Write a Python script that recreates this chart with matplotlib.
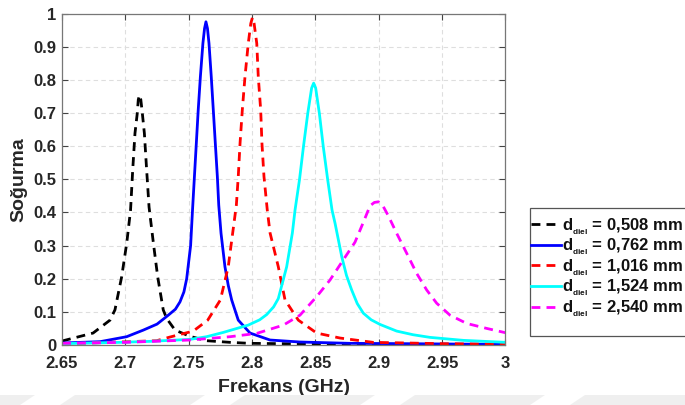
import matplotlib
matplotlib.use("Agg")
import matplotlib.pyplot as plt
from matplotlib.patches import Polygon, Rectangle

plt.rcParams["font.family"] = ["Liberation Sans", "DejaVu Sans"]
plt.rcParams["font.weight"] = "bold"
plt.rcParams["mathtext.fontset"] = "custom"
plt.rcParams["mathtext.rm"] = "Liberation Sans:bold"
plt.rcParams["mathtext.bf"] = "Liberation Sans:bold"
plt.rcParams["mathtext.it"] = "Liberation Sans:bold"

# Absorption spectra for different dielectric thicknesses
f_0508 = [2.650, 2.6745, 2.6879, 2.6918, 2.6971, 2.7011, 2.7041, 2.7058, 2.7076, 2.7094,
          2.7102, 2.7112, 2.7122, 2.7134, 2.7150, 2.7168, 2.7187, 2.7221, 2.7255, 2.7299,
          2.7326, 2.7392, 2.7510, 2.7640, 2.7826, 2.7980, 2.8500, 2.9500, 3.000]
a_0508 = [0.012, 0.036, 0.075, 0.106, 0.206, 0.308, 0.407, 0.528, 0.639, 0.699,
          0.740, 0.754, 0.740, 0.699, 0.639, 0.528, 0.416, 0.308, 0.206, 0.106,
          0.080, 0.045, 0.026, 0.013, 0.008, 0.005, 0.003, 0.002, 0.001]

f_0762 = [2.650, 2.6800, 2.7010, 2.7142, 2.7250, 2.7339, 2.7395, 2.7431, 2.7462, 2.7484,
          2.7515, 2.7530, 2.7545, 2.7560, 2.7575, 2.7592, 2.7612, 2.7625, 2.7636, 2.7648,
          2.7660, 2.7678, 2.7694, 2.7710, 2.7726, 2.7737, 2.7755, 2.7786, 2.7812, 2.7839,
          2.7891, 2.7984, 2.8142, 2.8378, 2.8773, 2.9500, 3.000]
a_0762 = [0.006, 0.010, 0.025, 0.045, 0.063, 0.090, 0.108, 0.130, 0.160, 0.200,
          0.300, 0.407, 0.508, 0.608, 0.709, 0.809, 0.910, 0.955, 0.975, 0.955,
          0.910, 0.809, 0.709, 0.608, 0.508, 0.422, 0.337, 0.236, 0.180, 0.136,
          0.075, 0.036, 0.015, 0.009, 0.005, 0.003, 0.002]

f_1016 = [2.650, 2.7247, 2.7352, 2.7536, 2.7650, 2.7750, 2.7812, 2.7847, 2.7876, 2.7891,
          2.7905, 2.7923, 2.7944, 2.7970, 2.7990, 2.8003, 2.8016, 2.8037, 2.8049, 2.8068,
          2.8078, 2.8094, 2.8120, 2.8142, 2.8207, 2.8260, 2.8365, 2.8510, 2.8694, 2.8954,
          2.9500, 3.000]
a_1016 = [0.003, 0.013, 0.024, 0.042, 0.075, 0.136, 0.236, 0.338, 0.422, 0.508,
          0.608, 0.709, 0.809, 0.910, 0.970, 0.988, 0.970, 0.910, 0.809, 0.709,
          0.608, 0.508, 0.407, 0.338, 0.236, 0.136, 0.075, 0.036, 0.021, 0.008,
          0.004, 0.002]

f_1524 = [2.650, 2.6958, 2.7195, 2.7510, 2.7641, 2.7773, 2.7970, 2.8060, 2.8116, 2.8170,
          2.8207, 2.8273, 2.8318, 2.8339, 2.8374, 2.8406, 2.8440, 2.8470, 2.8486, 2.8502,
          2.8531, 2.8562, 2.8597, 2.8631, 2.8655, 2.8708, 2.8745, 2.8786, 2.8830, 2.8878,
          2.8940, 2.9010, 2.9141, 2.9270, 2.9404, 2.9667, 3.000]
a_1524 = [0.004, 0.008, 0.011, 0.017, 0.025, 0.038, 0.060, 0.076, 0.092, 0.115,
          0.140, 0.236, 0.338, 0.407, 0.498, 0.600, 0.700, 0.775, 0.790, 0.775,
          0.699, 0.598, 0.498, 0.407, 0.367, 0.266, 0.210, 0.166, 0.125, 0.096,
          0.076, 0.062, 0.042, 0.031, 0.023, 0.014, 0.008]

f_2540 = [2.650, 2.700, 2.7510, 2.7826, 2.8037, 2.8247, 2.8378, 2.8510, 2.8615, 2.8734,
          2.8812, 2.8878, 2.8931, 2.8965, 2.8997, 2.9035, 2.9075, 2.9141, 2.9220, 2.9299,
          2.9378, 2.9457, 2.9562, 2.9694, 2.9852, 3.000]
a_2540 = [0.005, 0.008, 0.015, 0.025, 0.035, 0.060, 0.090, 0.146, 0.196, 0.265,
          0.310, 0.370, 0.420, 0.430, 0.432, 0.418, 0.390, 0.337, 0.277, 0.216,
          0.166, 0.126, 0.090, 0.065, 0.050, 0.037]

labels = ["0,508", "0,762", "1,016", "1,524", "2,540"]
colors = ["#000000", "#0000ff", "#ff0000", "#00ffff", "#ff00ff"]
dashed = [True, False, True, False, True]
series = [(f_0508, a_0508), (f_0762, a_0762), (f_1016, a_1016),
          (f_1524, a_1524), (f_2540, a_2540)]

xticks = [2.65, 2.7, 2.75, 2.8, 2.85, 2.9, 2.95, 3.0]
xticklabels = ["2.65", "2.7", "2.75", "2.8", "2.85", "2.9", "2.95", "3"]
yticks = [0, 0.1, 0.2, 0.3, 0.4, 0.5, 0.6, 0.7, 0.8, 0.9, 1.0]
yticklabels = ["0", "0.1", "0.2", "0.3", "0.4", "0.5", "0.6", "0.7", "0.8", "0.9", "1"]

W, H = 685, 405
fig = plt.figure(figsize=(W / 100, H / 100), dpi=100)
fig.patch.set_facecolor("white")


def px(x, y):
    """Figure pixel (from top-left) to figure fraction."""
    return x / W, 1 - y / H


# faint band along the bottom edge
band_y0 = 1 - 395 / H
fig.patches.append(Rectangle((0, 0), 1, band_y0, transform=fig.transFigure,
                             facecolor="#efefef", edgecolor="none", zorder=0))
for gx in [20, 190, 360, 530]:
    pts = [(gx / W, 0), ((gx + 40) / W, 0), ((gx + 55) / W, band_y0), ((gx + 15) / W, band_y0)]
    fig.patches.append(Polygon(pts, closed=True, transform=fig.transFigure,
                               facecolor="white", edgecolor="none", zorder=0))

ax = fig.add_axes([62 / W, 1 - 345 / H, (505.5 - 62) / W, (345 - 13.5) / H])

handles = []
for (f, a), lab, c, d in zip(series, labels, colors, dashed):
    ls = (0, (3.2, 2.2)) if d else "-"
    h, = ax.plot(f, a, color=c, lw=2.0, linestyle=ls,
                 label=r"$\mathdefault{d_{{}_{diel}}}$ = " + lab + " mm")
    handles.append(h)

ax.set_xlim(2.65, 3.0)
ax.set_ylim(0, 1)
ax.set_xticks(xticks)
ax.set_xticklabels(xticklabels)
ax.set_yticks(yticks)
ax.set_yticklabels(yticklabels)
ax.grid(True, linestyle=(0, (4, 3)), color="#dedede", linewidth=0.8)
ax.set_axisbelow(True)
ax.tick_params(direction="in", length=4, width=0.8, color="#444444",
               top=True, right=True, labelsize=12, labelcolor="#262626")
ax.tick_params(axis="x", pad=8)
ax.tick_params(axis="y", pad=4)
for lbl in ax.get_xticklabels() + ax.get_yticklabels():
    lbl.set_fontweight("bold")
for sp in ax.spines.values():
    sp.set_color("#777777")
    sp.set_linewidth(0.9)

ax.set_xlabel("Frekans (GHz)", fontsize=14, fontweight="bold", color="#262626", labelpad=6)
fig.text(*px(18.5, 180), "Soğurma", rotation=90, fontsize=14, fontweight="bold",
         color="#262626", ha="center", va="center")

# legend box, running past the right edge of the canvas
x0, y0 = px(530, 336)
x1, y1 = px(695, 208)
fig.patches.append(Rectangle((x0, y0), x1 - x0, y1 - y0, transform=fig.transFigure,
                             facecolor="white", edgecolor="#555555", linewidth=0.9, zorder=2))

leg = fig.legend(handles=handles, loc="upper left",
                 bbox_to_anchor=px(531, 216), fontsize=12,
                 handlelength=1.8, handletextpad=0.08, labelspacing=0.0,
                 borderpad=0.0, borderaxespad=0, frameon=False)
leg.set_zorder(3)
for t in leg.get_texts():
    t.set_fontweight("bold")
    t.set_color("#111111")

fig.savefig("out.png", dpi=100)
